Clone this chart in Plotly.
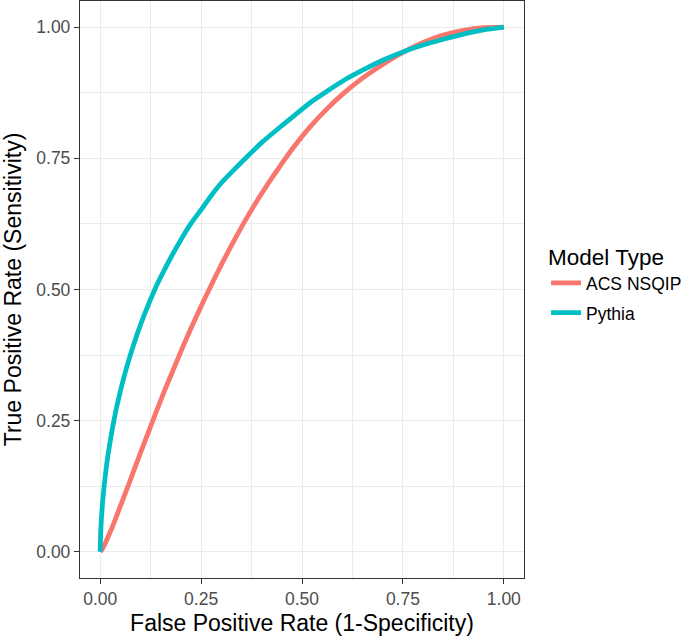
import plotly.graph_objects as go

# ROC curve points
acs_fpr = [0.0, 0.005, 0.01, 0.02, 0.03, 0.04, 0.05, 0.065, 0.08, 0.1, 0.12, 0.14, 0.16,
           0.18, 0.2, 0.225, 0.25, 0.275, 0.3, 0.33, 0.365, 0.4, 0.44, 0.48, 0.52, 0.56,
           0.6, 0.65, 0.7, 0.75, 0.8, 0.85, 0.9, 0.95, 1.0]
acs_tpr = [0.0, 0.005, 0.012, 0.029, 0.047, 0.067, 0.087, 0.117, 0.148, 0.189, 0.229,
           0.269, 0.308, 0.345, 0.382, 0.426, 0.468, 0.508, 0.547, 0.591, 0.639, 0.683,
           0.729, 0.772, 0.810, 0.843, 0.872, 0.903, 0.929, 0.952, 0.971, 0.985, 0.994,
           0.999, 1.0]

pythia_fpr = [0.0, 0.001, 0.003, 0.006, 0.01, 0.015, 0.02, 0.03, 0.04, 0.05, 0.065, 0.08,
              0.1, 0.12, 0.14, 0.16, 0.18, 0.2, 0.225, 0.25, 0.275, 0.3, 0.33, 0.365, 0.4,
              0.44, 0.48, 0.52, 0.56, 0.6, 0.65, 0.7, 0.75, 0.8, 0.85, 0.9, 0.95, 1.0]
pythia_tpr = [0.0, 0.032, 0.063, 0.095, 0.127, 0.160, 0.188, 0.234, 0.273, 0.306, 0.350,
              0.388, 0.433, 0.472, 0.508, 0.539, 0.568, 0.595, 0.626, 0.652, 0.679, 0.703,
              0.727, 0.754, 0.780, 0.806, 0.831, 0.856, 0.877, 0.897, 0.918, 0.937, 0.953,
              0.966, 0.977, 0.987, 0.995, 1.0]

tick_vals = [0.0, 0.25, 0.5, 0.75, 1.0]
tick_text = ["0.00", "0.25", "0.50", "0.75", "1.00"]

FONT = "Liberation Sans, Arial, sans-serif"

fig = go.Figure()
fig.add_trace(go.Scatter(x=acs_fpr, y=acs_tpr, mode="lines", name="ACS NSQIP", legendgroup="a",
                         line=dict(color="#F8766D", width=4.8, shape="spline", smoothing=0.5)))
fig.add_trace(go.Scatter(x=pythia_fpr, y=pythia_tpr, mode="lines", name="Pythia", legendgroup="b",
                         line=dict(color="#00BFC4", width=4.8, shape="spline", smoothing=0.5)))

axis_common = dict(
    range=[-0.05, 1.05], tickvals=tick_vals, ticktext=tick_text,
    showgrid=True, gridcolor="#EBEBEB", gridwidth=1.1,
    minor=dict(dtick=0.125, tick0=0, showgrid=True, gridcolor="#EBEBEB", gridwidth=0.55),
    zeroline=False, showline=True, mirror=True, linecolor="#333333", linewidth=1.3,
    ticks="outside", ticklen=5, tickwidth=1.1, tickcolor="#333333",
    tickfont=dict(family=FONT, size=17.5, color="#4D4D4D"),
    automargin=False,
)

fig.update_layout(
    width=686, height=637,
    margin=dict(l=80, r=162, t=1, b=59, autoexpand=False),
    paper_bgcolor="white", plot_bgcolor="white",
    font=dict(family=FONT),
    xaxis=dict(**axis_common,
               title=dict(text="False Positive Rate (1-Specificity)",
                          font=dict(family=FONT, size=23, color="black"), standoff=6)),
    yaxis=dict(**axis_common,
               title=dict(text="True Positive Rate (Sensitivity)",
                          font=dict(family=FONT, size=23, color="black"), standoff=11)),
    legend=dict(
        title=dict(text="Model Type", font=dict(family=FONT, size=22.5, color="black")),
        font=dict(family=FONT, size=17.5, color="black"),
        xref="container", x=0.796, y=0.593, xanchor="left", yanchor="top",
        bgcolor="rgba(0,0,0,0)", traceorder="grouped", tracegroupgap=4,
    ),
    showlegend=True,
)

fig.write_html("out.html", config={"displayModeBar": False},
               post_script="document.body.style.margin='0px';document.body.style.overflow='hidden';")
